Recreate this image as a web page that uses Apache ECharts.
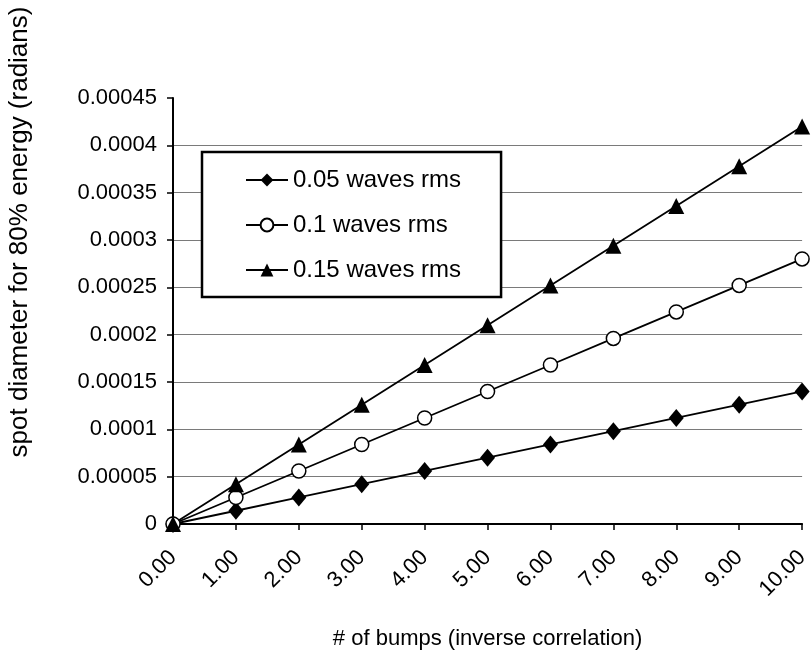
<!DOCTYPE html>
<html>
<head>
<meta charset="utf-8">
<script src="https://cdn.jsdelivr.net/npm/echarts@6/dist/echarts.min.js"></script>
<style>
  html, body { margin: 0; padding: 0; background: #fff; }
  #chart { width: 812px; height: 655px; }
</style>
</head>
<body>
<div id="chart"></div>
<script>
// Number of bumps (x categories)
var bumps = ['0.00', '1.00', '2.00', '3.00', '4.00', '5.00', '6.00', '7.00', '8.00', '9.00', '10.00'];

// Spot diameter (radians) for each surface roughness
var rms005 = [0, 0.000014, 0.000028, 0.000042, 0.000056, 0.00007, 0.000084, 0.000098, 0.000112, 0.000126, 0.00014];
var rms010 = [0, 0.000028, 0.000056, 0.000084, 0.000112, 0.00014, 0.000168, 0.000196, 0.000224, 0.000252, 0.00028];
var rms015 = [0, 0.000042, 0.000084, 0.000126, 0.000168, 0.00021, 0.000252, 0.000294, 0.000336, 0.000378, 0.00042];

var seriesNames = ['0.05 waves rms', '0.1 waves rms', '0.15 waves rms'];

var FONT = '"Liberation Sans", Arial, Helvetica, sans-serif';

var chart = echarts.init(document.getElementById('chart'), null, { renderer: 'canvas' });

function lineSeries(name, data, symbol, size, fill) {
  return {
    name: name,
    type: 'line',
    data: data,
    symbol: symbol,
    symbolSize: size,
    showAllSymbol: true,
    animation: false,
    lineStyle: { color: '#000', width: 1.8 },
    itemStyle: { color: fill, borderColor: '#000', borderWidth: fill === '#fff' ? 1.5 : 0 },
    emphasis: { disabled: true }
  };
}

chart.setOption({
  animation: false,
  backgroundColor: '#fff',
  grid: { left: 173, right: 6, top: 98, bottom: 131, containLabel: false },
  legend: {
    orient: 'vertical',
    left: 202,
    top: 152,
    data: seriesNames,
    backgroundColor: '#fff',
    borderColor: '#000',
    borderWidth: 2.5,
    borderRadius: 0,
    padding: [16, 40, 15, 43],
    itemWidth: 42,
    itemHeight: 16,
    itemGap: 21,
    selectedMode: false,
    textStyle: { fontFamily: FONT, fontSize: 24, color: '#000' }
  },
  xAxis: {
    type: 'category',
    data: bumps,
    boundaryGap: false,
    name: '# of bumps (inverse correlation)',
    nameLocation: 'middle',
    nameGap: 104,
    nameTextStyle: { fontFamily: FONT, fontSize: 22, color: '#000' },
    axisLine: { lineStyle: { color: '#000', width: 2 } },
    axisTick: { show: true, alignWithLabel: true, length: 6, lineStyle: { color: '#000', width: 1.5 } },
    axisLabel: { rotate: 45, margin: 30, fontFamily: FONT, fontSize: 22, color: '#000', interval: 0 },
    splitLine: { show: false }
  },
  yAxis: {
    type: 'value',
    min: 0,
    max: 0.00045,
    interval: 0.00005,
    axisLine: { show: true, lineStyle: { color: '#000', width: 2 } },
    axisTick: { show: true, length: 6, lineStyle: { color: '#000', width: 1.5 } },
    axisLabel: {
      margin: 16,
      fontFamily: FONT,
      fontSize: 22,
      color: '#000',
      formatter: function (v) { return String(+v.toFixed(5)); }
    },
    splitLine: { show: true, showMaxLine: false, lineStyle: { color: '#7a7a7a', width: 1.2 } }
  },
  graphic: [{
    type: 'text',
    x: 20,
    y: 232,
    rotation: Math.PI / 2,
    style: {
      text: 'spot diameter for 80% energy (radians)',
      font: '26px ' + FONT,
      fill: '#000',
      align: 'center',
      verticalAlign: 'middle'
    }
  }],
  series: [
    lineSeries(seriesNames[0], rms005, 'diamond', [15, 18], '#000'),
    lineSeries(seriesNames[1], rms010, 'circle', 14, '#fff'),
    lineSeries(seriesNames[2], rms015, 'triangle', 16, '#000')
  ]
});
</script>
</body>
</html>
